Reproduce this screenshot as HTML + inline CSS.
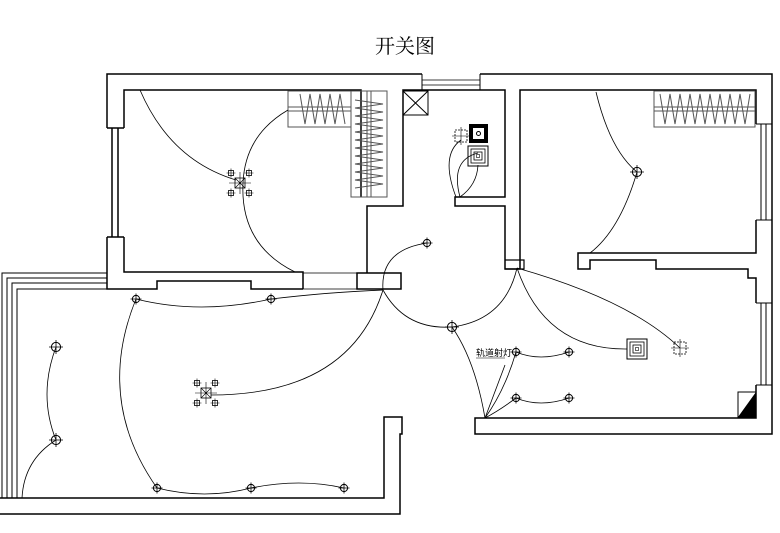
<!DOCTYPE html>
<html><head><meta charset="utf-8"><style>
html,body{margin:0;padding:0;background:#fff;}
svg{display:block;}
text{font-family:"Liberation Sans","Noto Sans CJK SC",sans-serif;}
</style></head><body>
<svg width="780" height="533" viewBox="0 0 780 533" xmlns="http://www.w3.org/2000/svg">
<defs>
<g id="lamp"><circle r="3.6" fill="none" stroke="#000" stroke-width="1"/><path d="M-5.5,0H5.5M0,-5.5V5.5" stroke="#000" stroke-width="0.8"/></g>
<g id="lampL"><circle r="4.6" fill="none" stroke="#000" stroke-width="1"/><path d="M-7,0H7M0,-7V7" stroke="#000" stroke-width="0.8"/></g>
<g id="sm"><rect x="-2.5" y="-2.5" width="5" height="5" fill="none" stroke="#000" stroke-width="0.8"/><path d="M-4.5,0H4.5M0,-4.5V4.5" stroke="#000" stroke-width="0.6"/></g>
<g id="chand"><use href="#sm" x="-9" y="-10"/><use href="#sm" x="9" y="-10"/><use href="#sm" x="-9" y="10"/><use href="#sm" x="9" y="10"/>
<rect x="-5" y="-5" width="10" height="10" fill="none" stroke="#000" stroke-width="0.8"/><path d="M-5,-5L5,5M5,-5L-5,5M-11,0H11M0,-11V11" stroke="#000" stroke-width="0.6"/></g>
<g id="conc"><rect x="-10" y="-10" width="20" height="20" fill="none" stroke="#000" stroke-width="1"/><rect x="-7" y="-7" width="14" height="14" fill="none" stroke="#000" stroke-width="0.8"/><rect x="-4" y="-4" width="8" height="8" fill="none" stroke="#000" stroke-width="0.8"/><rect x="-1.5" y="-1.5" width="3" height="3" fill="none" stroke="#000" stroke-width="0.6"/></g>
<g id="dsq"><rect x="-6" y="-6" width="12" height="12" fill="none" stroke="#000" stroke-width="0.8" stroke-dasharray="2,1"/><path d="M-9,0H9M0,-9V9" stroke="#000" stroke-width="0.6"/></g>
</defs>
<text x="405" y="53" font-size="20" text-anchor="middle" fill="#000" style="font-family:'Liberation Serif','Noto Serif CJK SC',serif">开关图</text>
<g fill="none" stroke="#000" stroke-width="1.5">
<path d="M107,128V74H422M480,74H772V434H475V418H756V385M756,303V278H748V269H656V260H590V269H578V253H756V220M756,124V90H520V269H505V206H455V197H505V90H403V206H367V273M303,289V272H124V237M124,128V90H361V197"/>
<path d="M107,237V289H157V281H251V289H303M357,289H401V273H357Z"/>
<path d="M107,128H124M107,237H124M112,128V237M118,128V237"/>
<path d="M422,74V90M480,74V90H505" stroke-width="1"/>
<path d="M422,80H480M422,85H480" stroke-width="0.8"/>
<path d="M756,124H772M756,220H772M761,124V220M766,124V220M756,303H772M756,385H772M761,303V385M766,303V385" stroke-width="1"/>
<path d="M303,289H357M303,273H357" stroke-width="0.8"/>
<path d="M107,273H2V498M107,278H7V498M107,283H12V498M107,289H17V498" stroke-width="1"/>
<path d="M0,498H384V417H402V434H400V514H0"/>
<path d="M505,269H524V260H505" stroke-width="1.2"/>
</g>
<polygon points="738,417 756,417 756,392" fill="#000"/>
<rect x="738" y="392" width="18" height="25" fill="none" stroke="#000" stroke-width="1"/>
<g fill="none" stroke="#000" stroke-width="1"><rect x="403" y="91" width="25" height="24"/><path d="M403,91L428,115M428,91L403,115"/></g>
<g fill="none" stroke="#555" stroke-width="1">
<rect x="288" y="91" width="63" height="36"/><path d="M288,107H351M288,111H351"/>
<path d="M300,94L305,124L310,94L315,124L320,94L325,124L330,94L335,124L340,94L345,124"/>
<rect x="351" y="91" width="36" height="106"/><path d="M367,91V197M371,91V197"/>
<path d="M355,100L383,104L355,108L383,112L355,116L383,120L355,124L383,128L355,132L383,136L355,140L383,144L355,148L383,152L355,156L383,160L355,164L383,168L355,172L383,176L355,180L383,184L355,188"/>
<rect x="654" y="91" width="101" height="36"/><path d="M654,107H755M654,111H755"/>
<path d="M660,94L665,124L670,94L675,124L680,94L685,124L690,94L695,124L700,94L705,124L710,94L715,124L720,94L725,124L730,94L735,124L740,94L745,124L750,94"/>
</g>
<use href="#chand" x="240" y="183"/>
<use href="#chand" x="206" y="393"/>
<use href="#lamp" x="136" y="299"/><use href="#lamp" x="271" y="299"/>
<use href="#lamp" x="157" y="488"/><use href="#lamp" x="251" y="488"/><use href="#lamp" x="344" y="488"/>
<use href="#lampL" x="56" y="347"/><use href="#lampL" x="56" y="440"/>
<use href="#lamp" x="427" y="243"/><use href="#lampL" x="452" y="327"/>
<use href="#lamp" x="516" y="352"/><use href="#lamp" x="569" y="352"/><use href="#lamp" x="516" y="398"/><use href="#lamp" x="569" y="398"/>
<use href="#lampL" x="637" y="172"/>
<use href="#conc" x="637" y="349"/><use href="#dsq" x="680" y="348"/><use href="#dsq" x="461" y="136"/>
<use href="#conc" x="478" y="156"/>
<rect x="469" y="124" width="19" height="19" fill="#000"/><rect x="473" y="128" width="11" height="11" fill="#fff"/><circle cx="478.5" cy="133.5" r="2" fill="none" stroke="#000"/>
<g fill="none" stroke="#000" stroke-width="0.8">
<path d="M140,90Q170,160 236,180"/>
<path d="M288,110Q245,135 243,183Q240,245 295,272"/>
<path d="M136,299Q200,315 271,299Q330,292 383,290"/>
<path d="M383,290Q350,395 211,395"/>
<path d="M136,299Q95,400 157,488Q205,500 251,488Q300,478 344,488"/>
<path d="M56,347Q38,395 56,440Q24,460 22,498"/>
<path d="M427,243Q380,250 383,290Q405,330 452,327Q505,320 517,268"/>
<path d="M452,327Q475,360 485,418"/>
<path d="M517,268Q545,350 627,349"/>
<path d="M517,268Q630,300 680,348"/>
<path d="M485,418Q505,390 516,352Q540,362 569,352"/>
<path d="M485,418Q500,410 516,398Q540,408 569,398"/>
<path d="M485,418L505,365"/>
<path d="M596,92Q610,150 637,172Q620,230 590,253"/>
<path d="M460,197Q450,160 478,153M456,197Q440,155 461,140M460,197Q477,185 478,165"/>
</g>
<text x="476" y="356" font-size="9" fill="#000">轨道射灯</text>
<path d="M476,358H505" stroke="#000" stroke-width="0.6"/>
</svg>
</body></html>
